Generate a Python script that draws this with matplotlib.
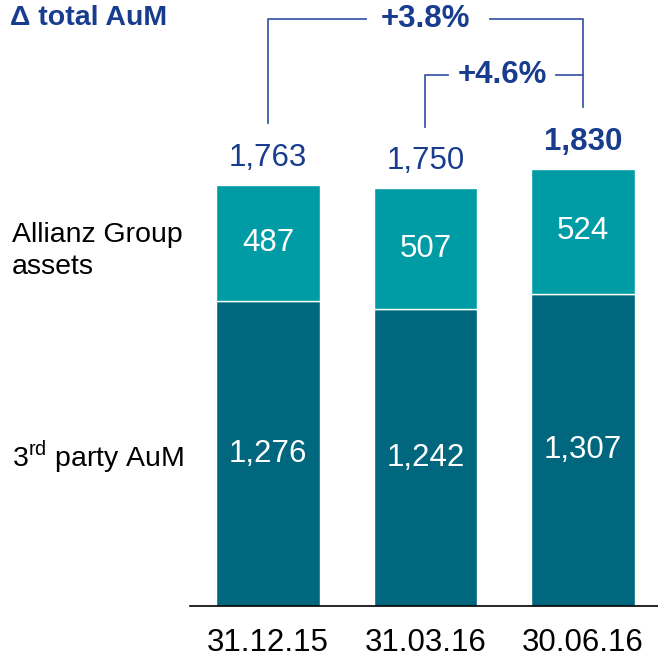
import matplotlib.pyplot as plt

plt.rcParams["font.family"] = ["Liberation Sans", "DejaVu Sans"]
plt.rcParams["mathtext.fontset"] = "custom"
plt.rcParams["mathtext.rm"] = "Liberation Sans"

# data (EUR bn)
dates = ["31.12.15", "31.03.16", "30.06.16"]
third_party = [1276, 1242, 1307]
group_assets = [487, 507, 524]
totals = [1763, 1750, 1830]
growth_labels = ["+3.8%", "+4.6%"]

DARK = "#00677f"
LIGHT = "#009ca6"
NAVY = "#183c8e"
LINE = "#3f5ba9"

W, H = 658, 662
fig = plt.figure(figsize=(W / 100, H / 100), dpi=100)
# axes in pixel coords: x 190..658, y baseline at 606 px from top
ax = fig.add_axes([190 / W, (H - 606) / H, (W - 190) / W, 606 / H])

x = list(range(len(dates)))
bw = 0.66
ax.bar(x, third_party, width=bw, color=DARK, edgecolor="white", linewidth=1)
ax.bar(x, group_assets, bottom=third_party, width=bw, color=LIGHT,
       edgecolor="white", linewidth=1)

ax.set_xlim(-0.495, 2.476)
ax.set_ylim(0, 2538)

for i in x:
    ax.text(i, third_party[i] / 2, f"{third_party[i]:,}", ha="center", va="center",
            color="white", fontsize=22.5)
    ax.text(i, third_party[i] + group_assets[i] / 2, f"{group_assets[i]:,}",
            ha="center", va="center", color="white", fontsize=22.5)
    bold = i == len(x) - 1
    ax.text(i, totals[i] + 50, f"{totals[i]:,}", ha="center", va="bottom",
            color=NAVY, fontsize=22.5, fontweight="bold" if bold else "normal")

# growth brackets
y1, y2 = 2458, 2224
ax.plot([0, 0, 0.62], [totals[0] + 260, y1, y1], color=LINE, lw=1.3)
ax.plot([1.41, 2.0, 2.0], [y1, y1, totals[2] + 260], color=LINE, lw=1.3)
ax.text(1.0, y1, growth_labels[0], ha="center", va="center", color=NAVY,
        fontsize=22.5, fontweight="bold")
ax.plot([1, 1, 1.14], [totals[1] + 256, y2, y2], color=LINE, lw=1.3)
ax.plot([1.83, 2.0], [y2, y2], color=LINE, lw=1.3)
ax.text(1.49, y2, growth_labels[1], ha="center", va="center", color=NAVY,
        fontsize=22.5, fontweight="bold")

for s in ["top", "right", "left"]:
    ax.spines[s].set_visible(False)
ax.spines["bottom"].set_color("black")
ax.spines["bottom"].set_linewidth(1.2)
ax.set_yticks([])
ax.set_xticks(x)
ax.set_xticklabels(dates, fontsize=22.5)
ax.tick_params(axis="x", length=0, pad=16)

fig.text(10 / W, 1 - 18 / H, "\u0394 total AuM", ha="left", va="center",
         color=NAVY, fontsize=20.5, fontweight="bold")
fig.text(12 / W, 1 - 251 / H, "Allianz Group\nassets", ha="left", va="center",
         color="black", fontsize=20.5, linespacing=1.35)
fig.text(12 / W, 1 - 457 / H, r"3$^{\mathrm{rd}}$ party AuM", ha="left", va="center",
         color="black", fontsize=20.5)

fig.savefig("out.png", dpi=100)
